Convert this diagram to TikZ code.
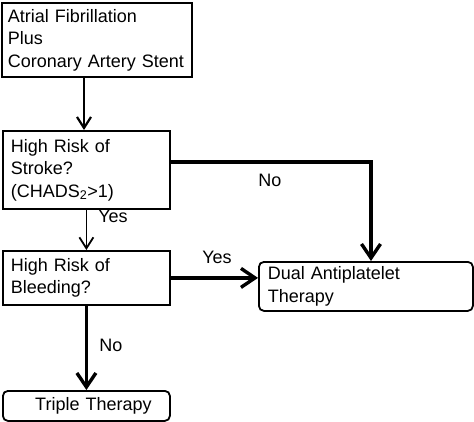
\documentclass[tikz,border=0pt]{standalone}
\usepackage{fontspec}
\setmainfont{Liberation Sans}
\usetikzlibrary{arrows.meta,calc}
\begin{document}
\begin{tikzpicture}[x=1pt,y=-1pt,
  font=\fontsize{18}{22.5}\selectfont,
  box/.style={draw, line width=1.8pt, anchor=north west, align=left, inner ysep=0pt},
  rbox/.style={box, rounded corners=5pt},
  lbl/.style={inner sep=0pt},
  thin arrow/.style={line width=2.2pt, -{Straight Barb[length=11pt,width=14pt,line width=2.2pt]}},
  thick arrow/.style={line width=3.4pt, -{Straight Barb[length=14pt,width=19pt,line width=3.4pt]}}]
\useasboundingbox (0,0) rectangle (474,421);
\node[box, minimum width=190pt, minimum height=74pt, text width=178pt, inner xsep=6pt] (b1) at (0.9,2)
  {Atrial Fibrillation\\Plus\\Coronary Artery Stent};
\node[box, minimum width=167pt, minimum height=78pt, text width=151pt, inner xsep=8pt] (b2) at (2,130)
  {High Risk of\\Stroke?\\(CHADS\textsubscript{2}>1)};
\node[box, minimum width=167pt, minimum height=54pt, text width=151pt, inner xsep=8pt] (b3) at (2,250)
  {High Risk of\\Bleeding?};
\node[rbox, minimum width=214pt, minimum height=49pt, text width=196pt, inner xsep=9pt] (dual) at (258,261)
  {Dual Antiplatelet\\Therapy};
\node[rbox, minimum width=167pt, minimum height=30pt, text width=151pt, inner xsep=8pt, align=center] (triple) at (2,390)
  {\hspace*{14pt}Triple Therapy};
\coordinate (c1) at (84,76);
\coordinate (turn) at (371,162);
\draw[thin arrow] (c1) -- (c1 |- b2.north);
\draw[thick arrow] (b2.east |- turn) -- (turn) -- (turn |- dual.north);
\draw[line width=1.8pt, -{Straight Barb[length=11pt,width=14pt,line width=1.8pt]}] (b2.south) -- (b3.north);
\draw[thick arrow] (b3.east) -- (b3.east -| dual.west);
\draw[thick arrow] (b3.south) -- (triple.north);
\node[lbl] (no1) at (270,180) {No};
\node[lbl] (yes1) at (113,216) {Yes};
\node[lbl] (yes2) at (217,257) {Yes};
\node[lbl] (no2) at (111,345) {No};
\end{tikzpicture}
\end{document}
